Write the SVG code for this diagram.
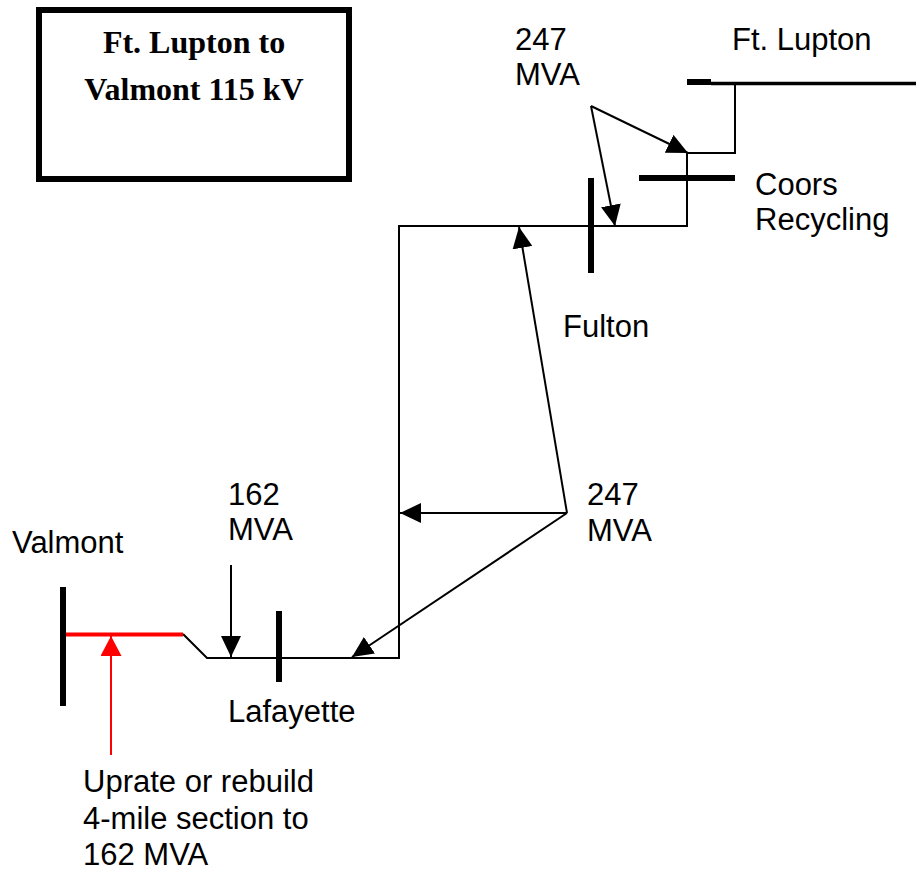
<svg xmlns="http://www.w3.org/2000/svg" width="916" height="872" viewBox="0 0 916 872">
<style>
  .lbl { font-family: "Liberation Sans", Arial, sans-serif; font-size: 31px; fill: #000; }
  .title { font-family: "Liberation Serif", "Times New Roman", serif; font-size: 32px; font-weight: bold; fill: #000; }
  .wire { fill: none; stroke: #000; stroke-width: 2; }
  .bus { stroke: #000; stroke-width: 6; }
  .arr { fill: none; stroke: #000; stroke-width: 2; marker-end: url(#ah); }
  .rarr { fill: none; stroke: #f00; stroke-width: 2; marker-end: url(#rah); }
</style>
<defs>
  <marker id="ah" markerUnits="userSpaceOnUse" markerWidth="21" markerHeight="20" refX="21" refY="10" orient="auto" viewBox="0 0 21 20">
    <path d="M0,0 L21,10 L0,20 z" fill="#000"/>
  </marker>
  <marker id="rah" markerUnits="userSpaceOnUse" markerWidth="20" markerHeight="21" refX="20" refY="10.5" orient="auto" viewBox="0 0 20 21">
    <path d="M0,0 L20,10.5 L0,21 z" fill="#f00"/>
  </marker>
</defs>
<rect width="916" height="872" fill="#fff"/>

<g id="title-box">
  <rect x="39" y="10" width="310" height="169" fill="#fff" stroke="#000" stroke-width="6"/>
  <text class="title" x="194" y="53" text-anchor="middle">Ft. Lupton to</text>
  <text class="title" x="194" y="100" text-anchor="middle">Valmont 115 kV</text>
</g>

<g id="connectors">
  <polyline class="wire" points="183,634 207,658 399,658 399,226 687,226 687,153 735,153 735,82"/>
  <line x1="63" y1="634.5" x2="183" y2="634.5" stroke="#f00" stroke-width="4"/>
  <line x1="711" y1="83.5" x2="916" y2="83.5" stroke="#000" stroke-width="3.5"/>
  <line class="arr" x1="591" y1="106" x2="688" y2="153"/>
  <line class="arr" x1="591" y1="106" x2="615" y2="226"/>
  <line class="arr" x1="567" y1="513" x2="519" y2="227"/>
  <line class="arr" x1="567" y1="513" x2="400" y2="513"/>
  <line class="arr" x1="567" y1="513" x2="352" y2="657"/>
  <line class="arr" x1="231" y1="565" x2="231" y2="657"/>
  <line class="rarr" x1="111" y1="755" x2="111" y2="636"/>
</g>

<g id="ft-lupton">
  <line class="bus" x1="687" y1="82" x2="711" y2="82"/>
  <text class="lbl" x="732" y="50">Ft. Lupton</text>
</g>

<g id="coors-recycling">
  <line class="bus" x1="639" y1="178" x2="735" y2="178"/>
  <text class="lbl" x="755" y="195">Coors</text>
  <text class="lbl" x="755" y="230">Recycling</text>
</g>

<g id="fulton">
  <line class="bus" x1="591" y1="178" x2="591" y2="273"/>
  <text class="lbl" x="563" y="337">Fulton</text>
</g>

<g id="lafayette">
  <line class="bus" x1="279" y1="611" x2="279" y2="682"/>
  <text class="lbl" x="228" y="722">Lafayette</text>
</g>

<g id="valmont">
  <line class="bus" x1="63" y1="587" x2="63" y2="706"/>
  <text class="lbl" x="12" y="553">Valmont</text>
</g>

<g id="label-247-top">
  <text class="lbl" x="515" y="50">247</text>
  <text class="lbl" x="515" y="85">MVA</text>
</g>

<g id="label-247-bottom">
  <text class="lbl" x="587" y="505">247</text>
  <text class="lbl" x="587" y="541">MVA</text>
</g>

<g id="label-162">
  <text class="lbl" x="228" y="505">162</text>
  <text class="lbl" x="228" y="540">MVA</text>
</g>

<g id="label-uprate">
  <text class="lbl" x="83" y="792">Uprate or rebuild</text>
  <text class="lbl" x="83" y="828.5">4-mile section to</text>
  <text class="lbl" x="83" y="865">162 MVA</text>
</g>
</svg>
